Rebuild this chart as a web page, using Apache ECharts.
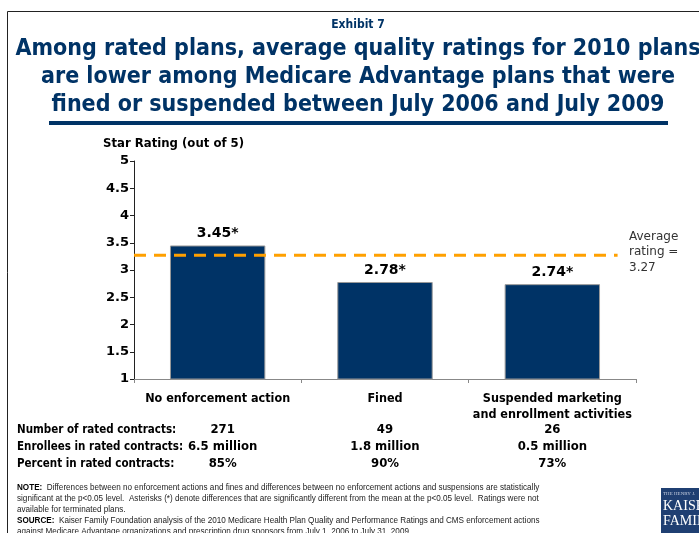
<!DOCTYPE html>
<html><head><meta charset="utf-8">
<script src="https://cdn.jsdelivr.net/npm/echarts@6/dist/echarts.min.js"></script>
<style>html,body{margin:0;padding:0;background:#fff}#c{width:699px;height:533px}</style>
</head><body><div id="c"></div>
<script>
const categories = ['No enforcement action', 'Fined', 'Suspended marketing\nand enrollment activities'];
const ratings = [3.45, 2.78, 2.74];
const averageRating = 3.27;
const yMin = 1, yMax = 5, yStep = 0.5;
const rowLabels = ['Number of rated contracts:', 'Enrollees in rated contracts:', 'Percent in rated contracts:'];
const contracts = ['271', '49', '26'];
const enrollees = ['6.5 million', '1.8 million', '0.5 million'];
const percents = ['85%', '90%', '73%'];
const exhibit = 'Exhibit 7';
const titleLines = [
  'Among rated plans, average quality ratings for 2010 plans',
  'are lower among Medicare Advantage plans that were',
  'fined or suspended between July 2006 and July 2009'
];
const yAxisTitle = 'Star Rating (out of 5)';
const noteLines = [
  '{b|NOTE:}  Differences between no enforcement actions and fines and differences between no enforcement actions and suspensions are statistically',
  'significant at the p<0.05 level.  Asterisks (*) denote differences that are significantly different from the mean at the p<0.05 level.  Ratings were not',
  'available for terminated plans.',
  '{b|SOURCE:}  Kaiser Family Foundation analysis of the 2010 Medicare Health Plan Quality and Performance Ratings and CMS enforcement actions',
  'against Medicare Advantage organizations and prescription drug sponsors from July 1, 2006 to July 31, 2009.'
];

const NAVY = '#003366';
const FONT = "'DejaVu Sans', Verdana, sans-serif";
const COND = "'DejaVu Sans Condensed', 'DejaVu Sans', sans-serif";
const NOTEFONT = "'Liberation Sans Narrow', 'Liberation Sans', Arial, sans-serif";
const chart = echarts.init(document.getElementById('c'));

const option = {
  animation: false,
  backgroundColor: '#fff',
  grid: { left: 134, right: 63, top: 161, bottom: 154, containLabel: false },
  xAxis: [{
    type: 'category', data: categories,
    axisLine: { lineStyle: { color: '#888', width: 1 } },
    axisTick: { show: true, length: 4, lineStyle: { color: '#888' } },
    axisLabel: { margin: 12, color: '#000', fontFamily: COND, fontWeight: 'bold', fontSize: 12.5, lineHeight: 16, interval: 0 }
  }, {
    type: 'value', min: 0, max: categories.length, show: false
  }],
  yAxis: {
    type: 'value', min: yMin, max: yMax, interval: yStep,
    axisLine: { show: true, lineStyle: { color: '#222', width: 1 } },
    axisTick: { show: true, length: 4, lineStyle: { color: '#222' } },
    splitLine: { show: false },
    axisLabel: { margin: 5, color: '#000', fontFamily: FONT, fontWeight: 'bold', fontSize: 13 }
  },
  series: [{
    type: 'bar', data: ratings, barWidth: '57%',
    itemStyle: { color: NAVY, borderColor: '#999', borderWidth: 1 },
    label: { show: true, position: 'top', distance: 5, formatter: p => p.value.toFixed(2) + '*',
      color: '#000', fontFamily: FONT, fontWeight: 'bold', fontSize: 14 }
  }, {
    type: 'line', xAxisIndex: 1, data: [[0, averageRating], [2.89, averageRating]],
    symbol: 'none', z: 5,
    lineStyle: { color: '#FFA000', width: 3, type: [12, 8] }
  }]
};
chart.setOption(option);

const xs = categories.map((c, i) => chart.convertToPixel({ xAxisIndex: 0 }, c));
const yAvg = chart.convertToPixel({ yAxisIndex: 0 }, averageRating);
const g = [];
g.push({ type: 'rect', shape: { x: 7.5, y: 11.5, width: 800, height: 600 }, style: { fill: null, stroke: '#222', lineWidth: 1 }, silent: true });
g.push({ type: 'text', x: 358, y: 25, style: { text: exhibit, fill: NAVY, font: "bold 12px " + COND, align: 'center', verticalAlign: 'middle' } });
titleLines.forEach((t, i) => g.push({ type: 'text', x: 358, y: 49 + i * 28, style: { text: t, fill: NAVY, font: "bold 23px " + COND, align: 'center', verticalAlign: 'middle' } }));
g.push({ type: 'rect', shape: { x: 49, y: 121, width: 619, height: 4 }, style: { fill: NAVY } });
g.push({ type: 'text', x: 103, y: 144, style: { text: yAxisTitle, fill: '#000', font: "bold 13px " + COND, align: 'left', verticalAlign: 'middle' } });
g.push({ type: 'text', x: 629, y: yAvg - 3, style: { text: 'Average\nrating =\n' + averageRating, fill: '#333', font: "12px " + FONT, lineHeight: 15.5, align: 'left', verticalAlign: 'middle' } });
const rows = [contracts, enrollees, percents];
rowLabels.forEach((lab, r) => {
  const y = 430 + r * 17;
  g.push({ type: 'text', x: 17, y, style: { text: lab, fill: '#000', font: "bold 11.5px " + COND, align: 'left', verticalAlign: 'middle' } });
  rows[r].forEach((v, i) => g.push({ type: 'text', x: xs[i] + (i === 0 ? 5 : 0), y, style: { text: v, fill: '#000', font: "bold 13px " + COND, align: 'center', verticalAlign: 'middle' } }));
});
g.push({ type: 'text', x: 17, y: 482, scaleX: 0.856, style: { text: noteLines.join('\n'), fill: '#222', font: "9.5px " + NOTEFONT, lineHeight: 11, align: 'left', verticalAlign: 'top',
  rich: { b: { fontWeight: 'bold', fill: '#000', fontSize: 9.5, fontFamily: NOTEFONT } } } });
g.push({ type: 'rect', shape: { x: 661, y: 488, width: 40, height: 46 }, style: { fill: '#1f3f72' } });
g.push({ type: 'text', x: 663, y: 494, style: { text: 'THE HENRY J.', fill: '#c8d0e0', font: "5px 'Liberation Serif', serif", verticalAlign: 'middle' } });
g.push({ type: 'text', x: 663, y: 506, style: { text: 'KAISER', fill: '#fff', font: "14px 'Liberation Serif', serif", verticalAlign: 'middle' } });
g.push({ type: 'text', x: 663, y: 521, style: { text: 'FAMILY', fill: '#fff', font: "14px 'Liberation Serif', serif", verticalAlign: 'middle' } });
chart.setOption({ graphic: g });
</script></body></html>
